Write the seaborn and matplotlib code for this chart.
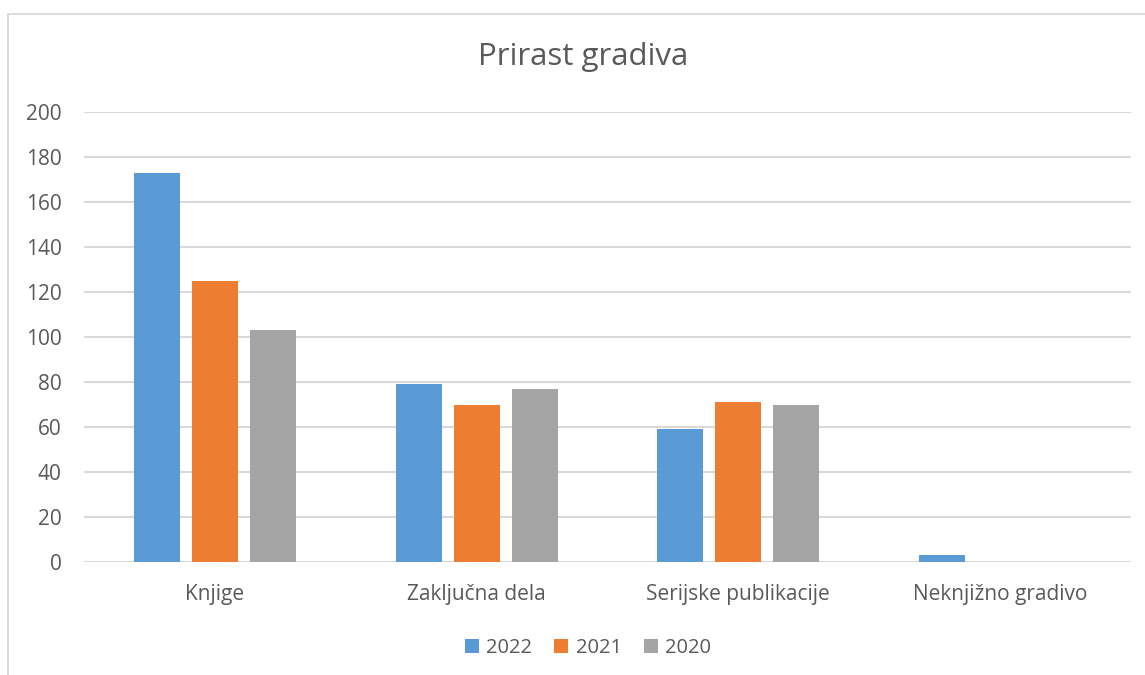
import matplotlib
matplotlib.use("Agg")
import matplotlib.pyplot as plt
from matplotlib.lines import Line2D
from matplotlib.patches import Patch
import pandas as pd
import seaborn as sns

categories = ["Knjige", "Zaključna dela", "Serijske publikacije", "Neknjižno gradivo"]
years = ["2022", "2021", "2020"]
values_2022 = [173, 79, 59, 3]
values_2021 = [125, 70, 71, 0]
values_2020 = [103, 77, 70, 0]
y_ticks = [0, 20, 40, 60, 80, 100, 120, 140, 160, 180, 200]

colors = ["#5B9BD5", "#ED7D31", "#A5A5A5"]
text_color = "#595959"
grid_color = "#D9D9D9"

rows = []
for year, vals in zip(years, [values_2022, values_2021, values_2020]):
    for cat, v in zip(categories, vals):
        rows.append({"kategorija": cat, "leto": year, "vrednost": v})
df = pd.DataFrame(rows)

sns.set_theme(style="white")
plt.rcParams["font.family"] = ["Open Sans", "DejaVu Sans"]

W, H = 1145, 675
fig = plt.figure(figsize=(W / 100, H / 100), dpi=100)
ax = fig.add_axes([84 / W, 1 - 562 / H, (1131 - 84) / W, (562 - 112) / H])

sns.barplot(data=df, x="kategorija", y="vrednost", hue="leto",
            hue_order=years, order=categories, palette=colors,
            width=0.665, gap=0.207, linewidth=0, saturation=1,
            errorbar=None, legend=False, ax=ax)

ax.set_ylim(0, 200)
ax.set_xlim(-0.5, len(categories) - 0.5)
ax.set_yticks(y_ticks)
ax.yaxis.grid(True, color=grid_color, linewidth=1.5)
ax.set_axisbelow(True)
for s in ax.spines.values():
    s.set_visible(False)
ax.set_xlabel("")
ax.set_ylabel("")
ax.tick_params(axis="both", length=0, colors=text_color, labelsize=15)
ax.tick_params(axis="x", pad=15.5)
ax.tick_params(axis="y", pad=16)

fig.text(583 / W, 1 - 57 / H, "Prirast gradiva", ha="center", va="center",
         fontsize=22.5, color=text_color)

handles = [Patch(facecolor=c, edgecolor="none") for c in colors]
fig.legend(handles, years, loc="center", bbox_to_anchor=(588 / W, 1 - 648 / H),
           ncol=3, frameon=False, fontsize=14.5, labelcolor=text_color,
           handlelength=0.7, handleheight=0.7, handletextpad=0.35,
           columnspacing=1.1)

# chart area frame
fig.add_artist(Line2D([7.5 / W, 7.5 / W], [0, 1 - 13.5 / H], transform=fig.transFigure,
                      color=grid_color, linewidth=1.3))
fig.add_artist(Line2D([7.5 / W, 1], [1 - 13.5 / H, 1 - 13.5 / H], transform=fig.transFigure,
                      color=grid_color, linewidth=1.3))

fig.savefig("out.png", dpi=100)
